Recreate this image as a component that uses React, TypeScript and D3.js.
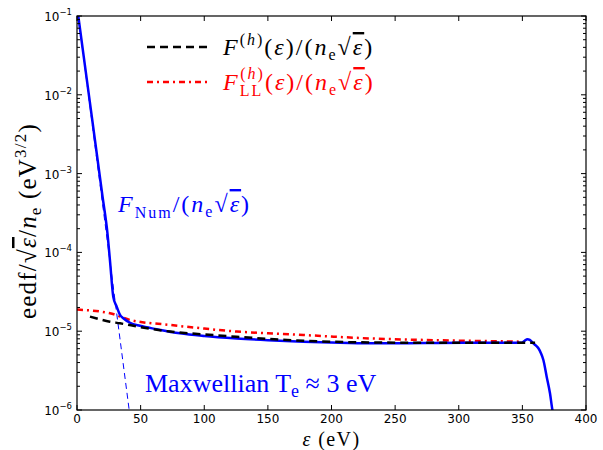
import React from 'react';
import * as d3 from 'd3';

// F_Num / (n_e sqrt(eps)) : blue solid
const numEnergy = [1, 10, 20, 24, 26, 28.5, 31.2, 33.8, 36.4, 41.7, 49.5, 62.6, 80.9, 100, 125.5, 150, 177.9, 200, 230, 260, 283, 320, 349.5, 352, 353.9, 355.8, 357.4, 358.6, 360.5, 362.6, 364.5, 366.5, 369.1, 371.7, 373.6, 375];
const numValue = [0.1, 8.3e-3, 5.2e-4, 1.71e-4, 7.6e-5, 2.74e-5, 2.05e-5, 1.61e-5, 1.46e-5, 1.28e-5, 1.17e-5, 1.06e-5, 9.4e-6, 8.7e-6, 8.1e-6, 7.7e-6, 7.36e-6, 7.2e-6, 7.05e-6, 7.05e-6, 7.1e-6, 7.12e-6, 7.15e-6, 7.6e-6, 7.9e-6, 7.75e-6, 7.36e-6, 7.0e-6, 6.6e-6, 6.07e-6, 5.3e-6, 4.31e-6, 2.65e-6, 1.63e-6, 1.0e-6, 8.0e-7];

// F^(h) / (n_e sqrt(eps)) : black dashed
const hEnergy = [10.2, 25.9, 33.8, 44.3, 73.1, 100, 125.5, 150, 177.9, 230, 300, 360];
const hValue = [1.53e-5, 1.32e-5, 1.26e-5, 1.17e-5, 9.9e-6, 9.1e-6, 8.5e-6, 8.0e-6, 7.57e-6, 7.2e-6, 7.12e-6, 7.15e-6];

// F_LL^(h) / (n_e sqrt(eps)) : red dash-dot
const llEnergy = [0, 25.9, 41.7, 73.1, 100, 125.5, 150, 177.9, 230, 280, 320, 350];
const llValue = [1.88e-5, 1.69e-5, 1.39e-5, 1.2e-5, 1.08e-5, 9.9e-6, 9.4e-6, 8.95e-6, 8.1e-6, 7.7e-6, 7.5e-6, 7.36e-6];

// Maxwellian T_e ~ 3 eV : thin blue dashed
const maxEnergy = [1, 42];
const maxValue = [0.1, 7.5e-7];

const xTicks = [0, 50, 100, 150, 200, 250, 300, 350, 400];
const yTickExponents = [-1, -2, -3, -4, -5, -6];

const W = 603;
const H = 450;
const L = 77, R = 586, T = 16, B = 410;

export default function App() {
  const x = d3.scaleLinear().domain([0, 400]).range([L, R]);
  const y = d3.scaleLog().domain([1e-6, 1e-1]).range([B, T]);

  const line = d3.line<[number, number]>()
    .x(d => x(d[0]))
    .y(d => y(d[1]))
    .curve(d3.curveMonotoneX);

  const zip = (a: number[], b: number[]) => a.map((v, i) => [v, b[i]] as [number, number]);

  const minor: number[] = [];
  for (let k = -6; k <= -2; k++) {
    for (let m = 2; m <= 9; m++) minor.push(m * Math.pow(10, k));
  }

  const serif = "'Liberation Serif', 'DejaVu Serif', serif";
  const sans = "'DejaVu Sans', sans-serif";
  const blue = '#0000ff';
  const red = '#ff0000';
  const ov = { textDecoration: 'overline' } as React.CSSProperties;

  return (
    <svg width={W} height={H} style={{ position: 'absolute', left: 0, top: 0, background: '#fff' }}>
      <defs>
        <clipPath id="plotclip">
          <rect x={L} y={T} width={R - L} height={B - T} />
        </clipPath>
      </defs>
      <rect x={0} y={0} width={W} height={H} fill="#fff" />

      <g clipPath="url(#plotclip)" fill="none">
        <path d={line(zip(maxEnergy, maxValue)) || ''} stroke={blue} strokeWidth={1} strokeDasharray="6,4" />
        <path d={line(zip(llEnergy, llValue)) || ''} stroke={red} strokeWidth={2.5} strokeDasharray="6,4,2,4" />
        <path d={line(zip(numEnergy, numValue)) || ''} stroke={blue} strokeWidth={2.5} />
        <path d={line(zip(hEnergy, hValue)) || ''} stroke="#000" strokeWidth={2.5} strokeDasharray="8,5" />
      </g>

      {/* frame */}
      <rect x={L} y={T} width={R - L} height={B - T} fill="none" stroke="#000" strokeWidth={1.2} />

      {/* x ticks */}
      {xTicks.map(t => (
        <g key={'xt' + t}>
          <line x1={x(t)} x2={x(t)} y1={B} y2={B - 5} stroke="#000" />
          <line x1={x(t)} x2={x(t)} y1={T} y2={T + 5} stroke="#000" />
          <text x={x(t)} y={B + 13} textAnchor="middle" fontFamily={sans} fontSize={12}>{t}</text>
        </g>
      ))}

      {/* y ticks */}
      {yTickExponents.map(e => (
        <g key={'yt' + e}>
          <line x1={L} x2={L + 5} y1={y(Math.pow(10, e))} y2={y(Math.pow(10, e))} stroke="#000" />
          <line x1={R} x2={R - 5} y1={y(Math.pow(10, e))} y2={y(Math.pow(10, e))} stroke="#000" />
          <text x={L - 5} y={y(Math.pow(10, e)) + 5} textAnchor="end" fontFamily={sans} fontSize={12}>
            10<tspan dy={-6} fontSize={8.5}>{'\u2212' + (-e)}</tspan>
          </text>
        </g>
      ))}
      {minor.map((v, i) => (
        <g key={'mn' + i}>
          <line x1={L} x2={L + 3} y1={y(v)} y2={y(v)} stroke="#000" />
          <line x1={R} x2={R - 3} y1={y(v)} y2={y(v)} stroke="#000" />
        </g>
      ))}

      {/* axis labels */}
      <text x={(L + R) / 2} y={445.5} textAnchor="middle" fontFamily={serif} fontSize={20} letterSpacing={1.4}>
        <tspan fontStyle="italic">ε</tspan> (eV)
      </text>
      <text transform={`translate(36, 221) rotate(-90)`} textAnchor="middle" fontFamily={serif} fontSize={25} letterSpacing={1.2}>
        eedf/√<tspan style={ov} fontStyle="italic">ε</tspan>/<tspan fontStyle="italic">n</tspan><tspan dy={5} fontSize={17}>e</tspan><tspan dy={-5}> (eV</tspan><tspan dy={-10} fontSize={17}>3/2</tspan><tspan dy={10}>)</tspan>
      </text>

      {/* legend */}
      <line x1={147} x2={210} y1={47} y2={47} stroke="#000" strokeWidth={2.5} strokeDasharray="8,5" />
      <line x1={147} x2={210} y1={82} y2={82} stroke={red} strokeWidth={2.5} strokeDasharray="6,4,2,4" />
      <text x={223} y={55} fontFamily={serif} fontSize={24} fill="#000" letterSpacing={2}>
        <tspan fontStyle="italic">F</tspan><tspan dy={-10} fontSize={16}>(</tspan><tspan fontSize={16} fontStyle="italic">h</tspan><tspan fontSize={16}>)</tspan><tspan dy={10}>(</tspan><tspan fontStyle="italic">ε</tspan><tspan>)/(</tspan><tspan fontStyle="italic">n</tspan><tspan dy={5} fontSize={16}>e</tspan><tspan dy={-5}>√</tspan><tspan fontStyle="italic" style={ov}>ε</tspan><tspan>)</tspan>
      </text>
      <text x={223} y={90} fontFamily={serif} fontSize={24} fill={red} letterSpacing={2}>
        <tspan fontStyle="italic">F</tspan><tspan dy={6} fontSize={16}>LL</tspan><tspan dx={-23} dy={-17} fontSize={16}>(</tspan><tspan fontSize={16} fontStyle="italic">h</tspan><tspan fontSize={16}>)</tspan><tspan dy={11}>(</tspan><tspan fontStyle="italic">ε</tspan><tspan>)/(</tspan><tspan fontStyle="italic">n</tspan><tspan dy={5} fontSize={16}>e</tspan><tspan dy={-5}>√</tspan><tspan fontStyle="italic" style={ov}>ε</tspan><tspan>)</tspan>
      </text>

      {/* annotations */}
      <text x={118} y={212} fontFamily={serif} fontSize={24} fill={blue} letterSpacing={2}>
        <tspan fontStyle="italic">F</tspan><tspan dy={6} fontSize={16}>Num</tspan><tspan dy={-6}>/(</tspan><tspan fontStyle="italic">n</tspan><tspan dy={5} fontSize={16}>e</tspan><tspan dy={-5}>√</tspan><tspan fontStyle="italic" style={ov}>ε</tspan><tspan>)</tspan>
      </text>
      <text x={145} y={392} fontFamily={serif} fontSize={26} fill={blue}>
        Maxwellian T<tspan dy={5} fontSize={18}>e</tspan><tspan dy={-5}> ≈ 3 eV</tspan>
      </text>
    </svg>
  );
}
